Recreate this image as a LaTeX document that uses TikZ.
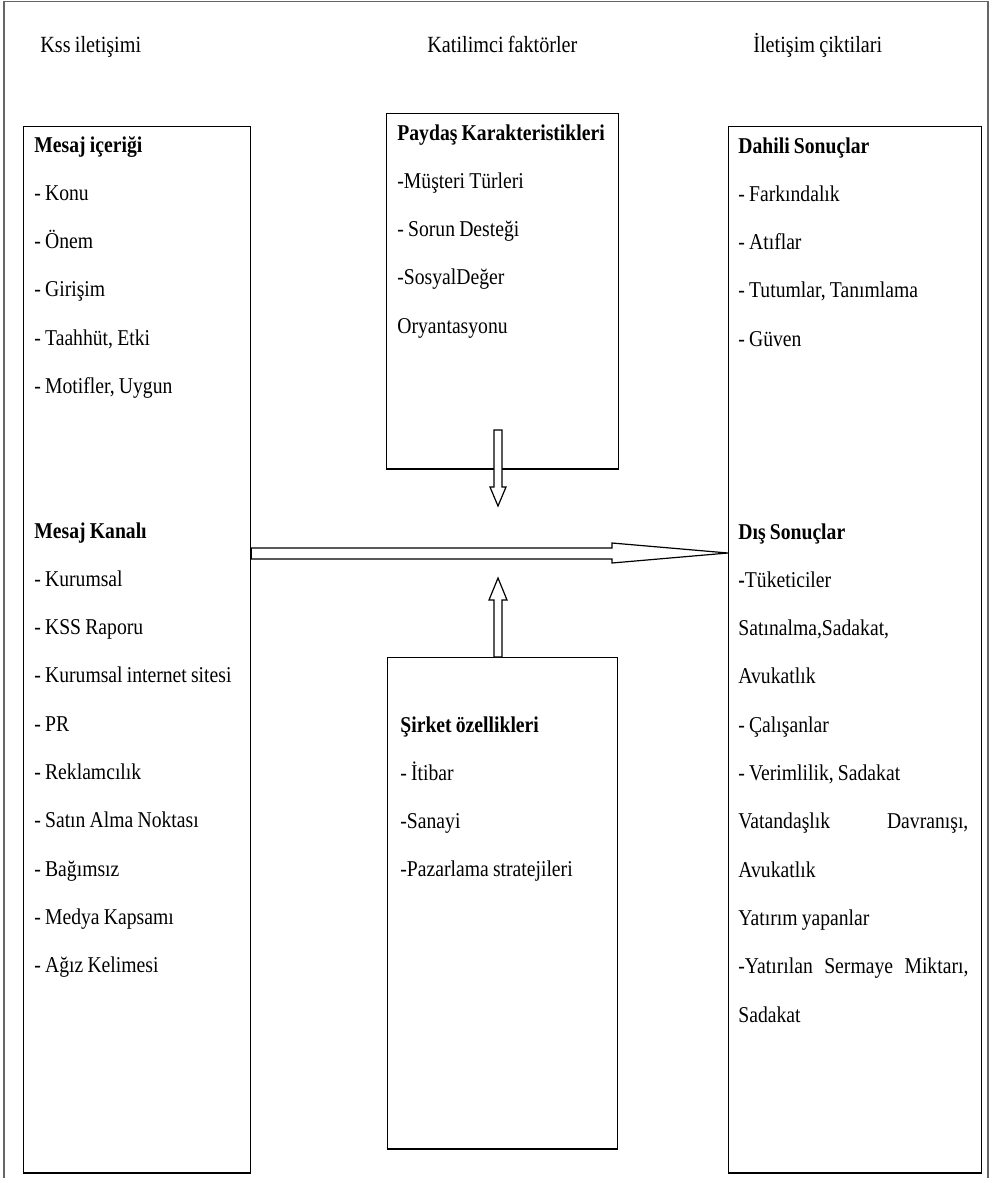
\documentclass[tikz,border=0pt]{standalone}
\usepackage{fontspec}
\setmainfont{Liberation Serif}[FakeStretch=0.87,WordSpace=0.85]
\tikzset{box/.style={draw=black,line width=0.6pt,anchor=north west,inner sep=0pt},
  txt/.style={anchor=base west,inner sep=0pt,align=flush left,text width=#1,font=\fontsize{11.3}{24.15}\selectfont},
  txt/.default=110pt,
  head/.style={anchor=base west,inner sep=0pt,font=\fontsize{11.6}{14}\selectfont},
  outer/.style={draw=black!60,line width=0.9pt},
  blockarrow/.style={draw=black,fill=white,line width=0.6pt,line join=miter}}

\begin{document}
\begin{tikzpicture}[x=0.5pt,y=-0.5pt]
  \useasboundingbox (0,0) rectangle (992,1178);
  \draw[outer] (4,1190) -- (4,1.5) -- (988,1.5) -- (988,1190);
  \node[head] (kss) at (40,52) {Kss iletişimi};
  \node[head] (katilim) at (427,52) {Katilimci faktörler};
  \node[head] (cikti) at (753,52) {İletişim çiktilari};
  % boxes
  \node[box,minimum width=113.5pt,minimum height=523pt] (icerik) at (23,126) {};
  \node[box,minimum width=116pt,minimum height=177.5pt] (paydas) at (386,113) {};
  \node[box,minimum width=115pt,minimum height=245.5pt] (sirket) at (387,657) {};
  \node[box,minimum width=126.5pt,minimum height=523pt] (ciktilar) at (728,126) {};
  \foreach \k in {icerik,paydas,sirket,ciktilar}
    \draw[line width=1pt] (\k.south west) -- (\k.south east);
  % texts
  \node[txt] (mesaj) at (34,152) {\textbf{Mesaj içeriği}\\- Konu\\- Önem\\- Girişim\\- Taahhüt, Etki\\- Motifler, Uygun};
  \node[txt] (kanal) at (34,538) {\textbf{Mesaj Kanalı}\\- Kurumsal\\- KSS Raporu\\- Kurumsal internet sitesi\\- PR\\- Reklamcılık\\- Satın Alma Noktası\\- Bağımsız\\- Medya Kapsamı\\- Ağız Kelimesi};
  \node[txt] (karakter) at (397,140) {\textbf{Paydaş Karakteristikleri}\\-Müşteri Türleri\\- Sorun Desteği\\-SosyalDeğer\\Oryantasyonu};
  \node[txt] (ozellik) at (400,732) {\textbf{Şirket özellikleri}\\- İtibar\\-Sanayi\\-Pazarlama stratejileri};
  \node[txt] (dahili) at (738,153) {\textbf{Dahili Sonuçlar}\\- Farkındalık\\- Atıflar\\- Tutumlar, Tanımlama\\- Güven};
  \node[txt=115pt] (dis) at (738,539) {\textbf{Dış Sonuçlar}\\\textbf{-}Tüketiciler\\Satınalma,Sadakat,\\Avukatlık\\- Çalışanlar\\- Verimlilik, Sadakat\\Vatandaşlık\hfill Davranışı,\\Avukatlık\\Yatırım yapanlar\\-Yatırılan\hfill Sermaye\hfill Miktarı,\\Sadakat};
  % arrows
  \draw[blockarrow] (icerik.east |- 0,548) -- (612,548) -- (612,543) -- (ciktilar.west |- 0,553)
    -- (612,563) -- (612,559) -- (icerik.east |- 0,559) -- cycle;
  \draw[blockarrow] (494,430) -- (494,487) -- (490,487) -- (498,506) -- (506,487) -- (502,487) -- (502,430) -- cycle;
  \draw[blockarrow] (sirket.north -| 494,0) -- (494,600) -- (489,600) -- (498,578) -- (507,600) -- (502,600)
    -- (sirket.north -| 502,0) -- cycle;
\end{tikzpicture}
\end{document}
